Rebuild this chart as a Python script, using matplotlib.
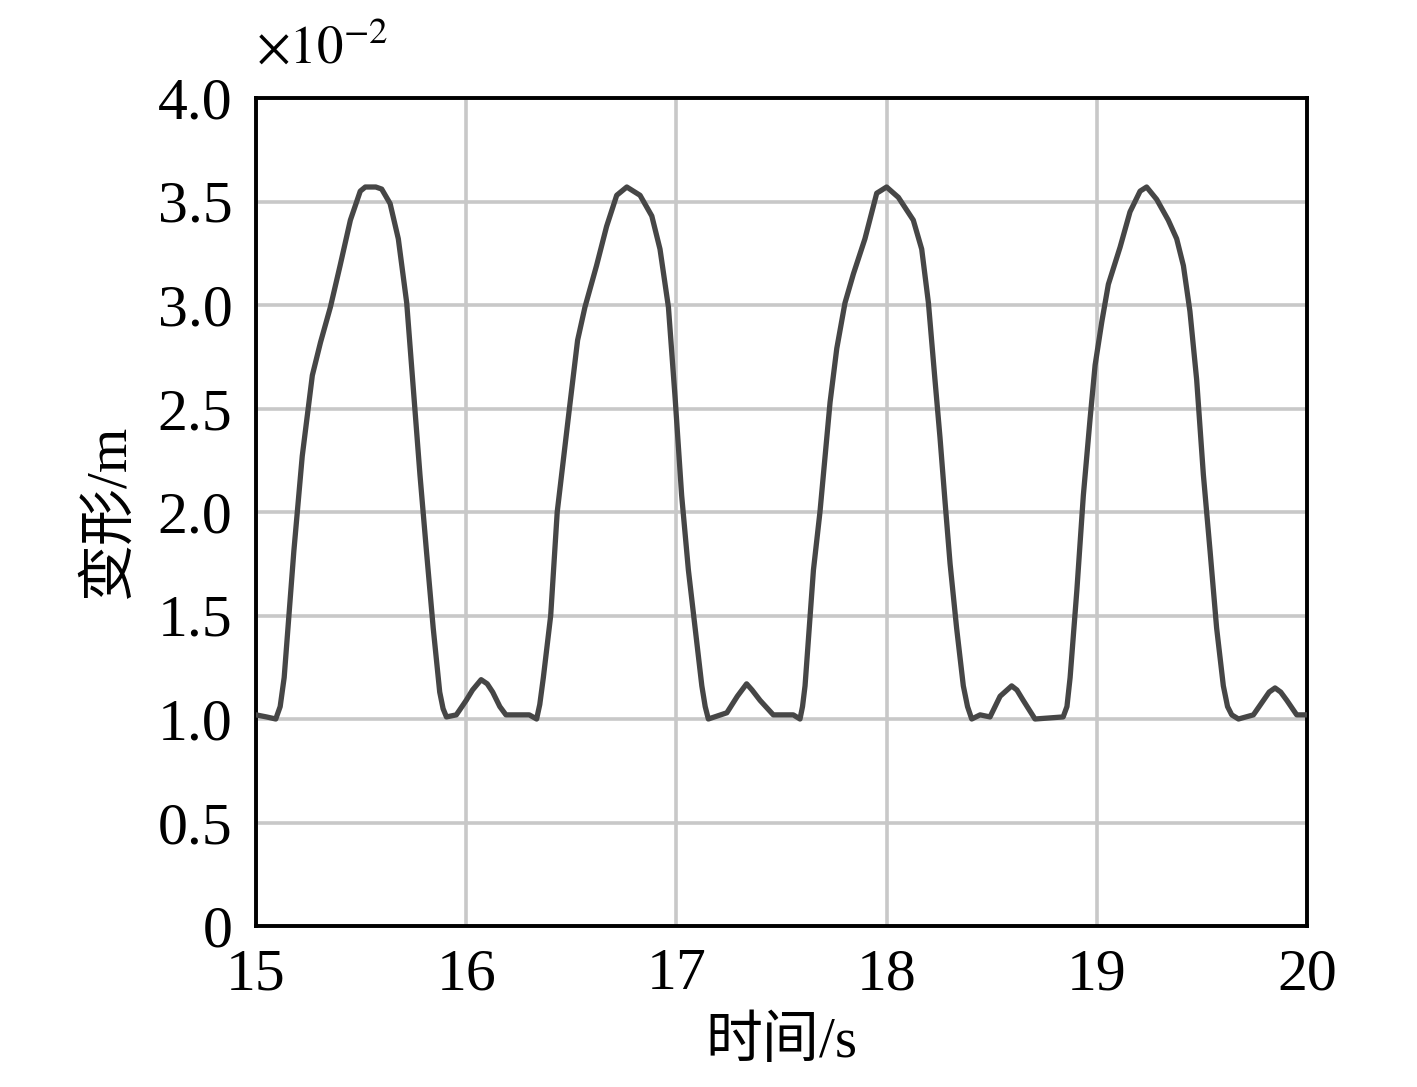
import matplotlib
matplotlib.use("Agg")
import matplotlib.pyplot as plt
from matplotlib.ticker import FixedLocator, FuncFormatter

plt.rcParams['font.family'] = ['Liberation Serif', 'Noto Sans CJK SC']
plt.rcParams['mathtext.fontset'] = 'stix'

time_s = [15.0, 15.05, 15.094, 15.115, 15.134, 15.18, 15.22, 15.268, 15.307, 15.354, 15.40,
          15.449, 15.496, 15.52, 15.57, 15.598, 15.638, 15.677, 15.717, 15.748, 15.78,
          15.811, 15.843, 15.874, 15.89, 15.906, 15.953, 16.0, 16.03, 16.071, 16.10, 16.126,
          16.16, 16.189, 16.236, 16.3, 16.335, 16.35, 16.367, 16.402, 16.433, 16.491, 16.53,
          16.565, 16.62, 16.668, 16.716, 16.764, 16.827, 16.883, 16.922, 16.962, 16.994,
          17.025, 17.057, 17.089, 17.121, 17.137, 17.152, 17.24, 17.29, 17.334, 17.36, 17.398,
          17.461, 17.556, 17.588, 17.60, 17.612, 17.652, 17.683, 17.731, 17.763, 17.802,
          17.842, 17.897, 17.953, 18.0, 18.056, 18.127, 18.167, 18.199, 18.23, 18.254,
          18.278, 18.302, 18.333, 18.365, 18.385, 18.405, 18.445, 18.492, 18.54, 18.595,
          18.62, 18.65, 18.706, 18.84, 18.858, 18.873, 18.905, 18.936, 18.968, 18.992,
          19.024, 19.055, 19.111, 19.158, 19.206, 19.237, 19.285, 19.34, 19.38, 19.412,
          19.443, 19.475, 19.507, 19.539, 19.57, 19.602, 19.622, 19.642, 19.674, 19.745,
          19.793, 19.82, 19.848, 19.875, 19.904, 19.951, 20.0]
deform = [1.02, 1.01, 1.0, 1.06, 1.2, 1.81, 2.27, 2.66, 2.82, 2.99, 3.19,
          3.41, 3.55, 3.57, 3.57, 3.56, 3.49, 3.32, 3.01, 2.60, 2.18,
          1.81, 1.44, 1.13, 1.05, 1.01, 1.02, 1.09, 1.14, 1.19, 1.17, 1.13,
          1.06, 1.02, 1.02, 1.02, 1.0, 1.07, 1.2, 1.5, 2.0, 2.5, 2.83,
          2.99, 3.19, 3.38, 3.53, 3.57, 3.53, 3.43, 3.27, 2.99, 2.55,
          2.08, 1.72, 1.44, 1.16, 1.06, 1.0, 1.03, 1.11, 1.17, 1.14, 1.09,
          1.02, 1.02, 1.0, 1.06, 1.16, 1.72, 2.0, 2.53, 2.79, 3.01,
          3.15, 3.32, 3.54, 3.57, 3.52, 3.41, 3.27, 3.01, 2.64, 2.36,
          2.05, 1.75, 1.44, 1.16, 1.06, 1.0, 1.02, 1.01, 1.11, 1.16,
          1.14, 1.09, 1.0, 1.01, 1.06, 1.2, 1.62, 2.08, 2.45, 2.71,
          2.92, 3.10, 3.28, 3.45, 3.55, 3.57, 3.51, 3.41, 3.32, 3.19,
          2.97, 2.64, 2.18, 1.81, 1.44, 1.16, 1.06, 1.02, 1.0, 1.02,
          1.09, 1.13, 1.15, 1.13, 1.09, 1.02, 1.02]

x_ticks = [15, 16, 17, 18, 19, 20]
y_ticks = [0, 0.5, 1.0, 1.5, 2.0, 2.5, 3.0, 3.5, 4.0]
x_label = '时间/s'
y_label = '变形/m'
scale_text = r'$\times10^{-2}$'

fig = plt.figure(figsize=(14.17, 10.87), dpi=100)
ax = fig.add_axes([256/1417, 1 - 926/1087, (1307-256)/1417, (926-98)/1087])

ax.plot(time_s, deform, color='#464646', lw=3.8, solid_joinstyle='round',
        solid_capstyle='round', zorder=3)

ax.set_xlim(15, 20)
ax.set_ylim(0, 4.0)
ax.xaxis.set_major_locator(FixedLocator(x_ticks))
ax.yaxis.set_major_locator(FixedLocator(y_ticks))
ax.yaxis.set_major_formatter(FuncFormatter(lambda v, p: '0' if v == 0 else f'{v:.1f}'))
ax.xaxis.set_major_formatter(FuncFormatter(lambda v, p: f'{int(v)}'))
ax.grid(True, color='#c8c8c8', lw=2.6, zorder=0)
ax.set_axisbelow(True)
ax.tick_params(length=0, labelsize=43, pad=17)
ax.tick_params(axis='x', pad=16)
for sp in ax.spines.values():
    sp.set_linewidth(2.8)
    sp.set_color('black')

ax.set_xlabel(x_label, fontsize=41, labelpad=10)
ax.set_ylabel(y_label, fontsize=41, labelpad=16)

ax.text(0.0, 1.03, scale_text, transform=ax.transAxes, fontsize=38,
        ha='left', va='bottom')

fig.savefig('out.png', dpi=100, facecolor='white')
